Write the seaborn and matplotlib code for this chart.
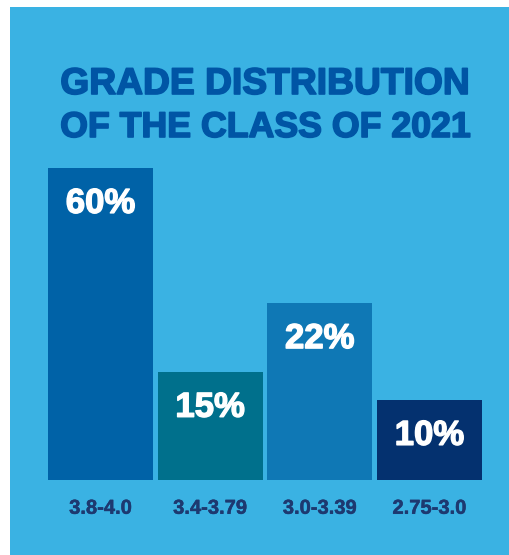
import pandas as pd
import matplotlib.pyplot as plt
import matplotlib.patheffects as pe
from matplotlib.patches import Rectangle
import seaborn as sns

# Data
grade_ranges = ['3.8-4.0', '3.4-3.79', '3.0-3.39', '2.75-3.0']
shares = [60, 15, 22, 10]                 # printed percentages
bar_heights = [60, 20.8, 34.0, 15.4]      # bar heights as drawn in the graphic (not to scale)
bar_colors = ['#0062A7', '#00708C', '#0F78B5', '#04316F']

df = pd.DataFrame({'Range': grade_ranges, 'Share': shares, 'Height': bar_heights})

sns.set_style("white")
plt.rcParams['font.family'] = ['Liberation Sans', 'DejaVu Sans']

panel_color = '#3AB2E3'
fig = plt.figure(figsize=(5.1, 5.55), dpi=100, facecolor='white')
fig.patches.append(Rectangle((10 / 510, 0), 1, 1 - 7 / 555, transform=fig.transFigure,
                             facecolor=panel_color, edgecolor='none', zorder=-5))

ax = fig.add_axes([0.0895, 0.1351, 0.8601, 0.5622])
ax.set_zorder(2)
ax.set_facecolor('none')
sns.barplot(data=df, x='Range', y='Height', hue='Range', palette=bar_colors,
            width=0.957, legend=False, saturation=1, linewidth=0, ax=ax)

ax.set_xlim(-0.5, 3.5)
ax.set_ylim(0, 60)
ax.set_xlabel('')
ax.set_ylabel('')
ax.set_yticks([])
sns.despine(ax=ax, left=True, bottom=True)
tick_color = '#1D3970'
ax.tick_params(axis='x', length=0, pad=13.5, labelsize=14.5, labelcolor=tick_color)
for lbl in ax.get_xticklabels():
    lbl.set_fontweight('bold')
    lbl.set_path_effects([pe.withStroke(linewidth=0.35, foreground=tick_color)])

# percentage labels inside the bars
for i, (h, s) in enumerate(zip(bar_heights, shares)):
    ax.annotate(f'{s}%', xy=(i, h), xytext=(0, -25.5), textcoords='offset points',
                ha='center', va='center', color='white', fontsize=25, fontweight='bold',
                path_effects=[pe.withStroke(linewidth=1.0, foreground='white')])

# Title
title_color = '#0055A5'
stroke = [pe.withStroke(linewidth=1.2, foreground=title_color)]
fig.text(0.5196, 1 - 94 / 555, 'GRADE DISTRIBUTION', ha='center', va='baseline',
         fontsize=26.8, fontweight='bold', color=title_color, path_effects=stroke)
fig.text(0.5196, 1 - 137 / 555, 'OF THE CLASS OF 2021', ha='center', va='baseline',
         fontsize=25.7, fontweight='bold', color=title_color, path_effects=stroke)

fig.savefig('out.png', dpi=100, facecolor='white')
